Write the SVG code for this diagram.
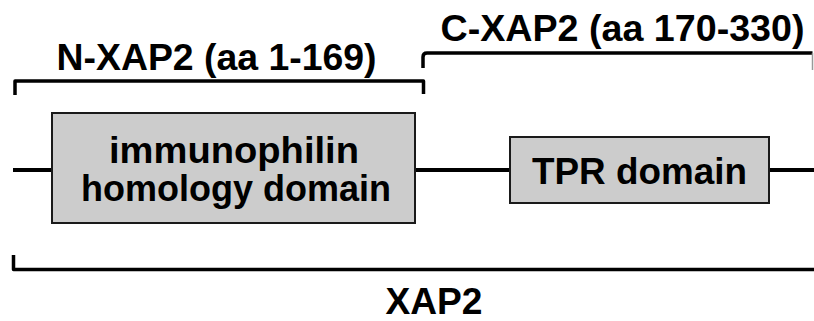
<svg xmlns="http://www.w3.org/2000/svg" width="814" height="321" viewBox="0 0 814 321">
<style>
.ln{stroke:#000;stroke-width:4;fill:none;stroke-linejoin:round}
.br{stroke:#000;stroke-width:3.5;fill:none;stroke-linejoin:round}
.box{fill:#cccccc;stroke:#1a1a1a;stroke-width:2}
.t{font-family:"Liberation Sans",Arial,sans-serif;font-weight:bold;fill:#000;font-size:37.5px}
.b{font-size:36.5px}
</style>
<rect width="814" height="321" fill="#fff"/>
<g id="connectors">
<line class="ln" x1="13" y1="170" x2="52" y2="170"/>
<line class="ln" x1="415" y1="170" x2="510" y2="170"/>
<line class="ln" x1="769" y1="170" x2="814" y2="170"/>
</g>
<g id="n-bracket">
<path class="br" d="M15,95 V81 H423.5 V94"/>
<text class="t" x="216.5" y="70" text-anchor="middle" textLength="320" lengthAdjust="spacingAndGlyphs">N-XAP2 (aa 1-169)</text>
</g>
<g id="c-bracket">
<path class="br" d="M423,68 V57 Q423,53 427,53 H812.5"/>
<path d="M812.5,53 V70" stroke="#999" stroke-width="1.5" fill="none"/>
<text class="t" x="622.5" y="41" text-anchor="middle" textLength="364" lengthAdjust="spacingAndGlyphs">C-XAP2 (aa 170-330)</text>
</g>
<g id="immunophilin">
<rect class="box" x="52" y="113" width="363" height="110"/>
<text class="t b" x="234" y="162.5" text-anchor="middle" textLength="250" lengthAdjust="spacingAndGlyphs">immunophilin</text>
<text class="t b" x="236" y="200.5" text-anchor="middle" textLength="310" lengthAdjust="spacingAndGlyphs">homology domain</text>
</g>
<g id="tpr">
<rect class="box" x="510" y="137" width="259" height="66"/>
<text class="t" x="639.5" y="184" text-anchor="middle" textLength="215" lengthAdjust="spacingAndGlyphs">TPR domain</text>
</g>
<g id="xap2">
<path class="br" d="M13.5,255 V269.5 H814"/>
<text class="t" x="434" y="314" text-anchor="middle" textLength="97" lengthAdjust="spacingAndGlyphs">XAP2</text>
</g>
</svg>
